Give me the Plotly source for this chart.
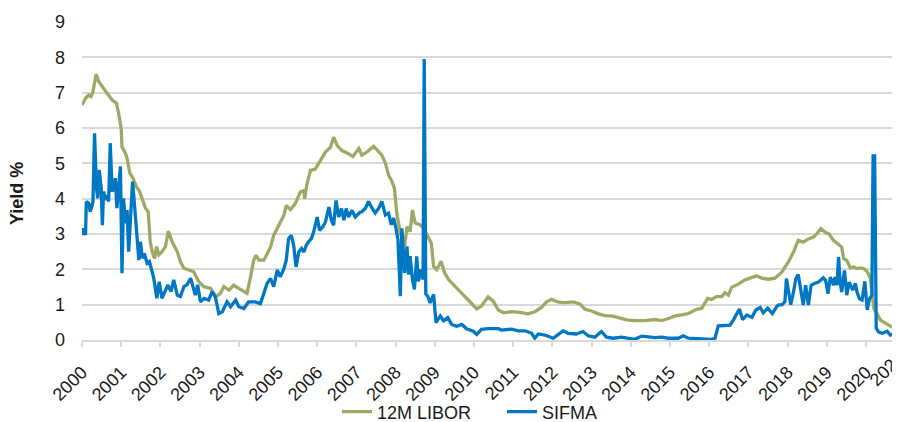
import plotly.graph_objects as go

# ---- data (decimal years, yield %) ----
libor_x = [2000.00, 2000.09, 2000.17, 2000.23, 2000.28, 2000.36, 2000.43, 2000.54, 2000.64, 2000.77,
           2000.88, 2000.94, 2001.00, 2001.02, 2001.11, 2001.15, 2001.22, 2001.30, 2001.39, 2001.47,
           2001.53, 2001.62, 2001.69, 2001.74, 2001.79, 2001.85, 2001.90, 2001.96, 2002.04, 2002.13,
           2002.20, 2002.30, 2002.43, 2002.51, 2002.60, 2002.72, 2002.85, 2002.98, 2003.11, 2003.28,
           2003.41, 2003.53, 2003.62, 2003.75, 2003.87, 2004.00, 2004.13, 2004.21, 2004.30, 2004.38,
           2004.44, 2004.51, 2004.64, 2004.72, 2004.81, 2004.89, 2005.02, 2005.15, 2005.21, 2005.32,
           2005.44, 2005.57, 2005.66, 2005.68, 2005.74, 2005.83, 2005.95, 2006.08, 2006.21, 2006.34,
           2006.42, 2006.51, 2006.63, 2006.80, 2006.91, 2007.02, 2007.06, 2007.14, 2007.27, 2007.44,
           2007.57, 2007.65, 2007.74, 2007.82, 2007.91, 2007.97, 2008.03, 2008.12, 2008.23, 2008.29,
           2008.37, 2008.43, 2008.50, 2008.63, 2008.74, 2008.82, 2008.91, 2008.97, 2009.05, 2009.16,
           2009.25, 2009.35, 2009.43, 2009.52, 2009.64, 2009.77, 2009.94, 2010.07, 2010.19, 2010.36,
           2010.49, 2010.62, 2010.75, 2010.96, 2011.17, 2011.38, 2011.55, 2011.72, 2011.85, 2011.98,
           2012.15, 2012.32, 2012.53, 2012.70, 2012.83, 2013.00, 2013.17, 2013.34, 2013.51, 2013.68,
           2013.89, 2014.10, 2014.36, 2014.62, 2014.79, 2014.96, 2015.13, 2015.30, 2015.47, 2015.64,
           2015.81, 2015.89, 2015.96, 2016.06, 2016.19, 2016.32, 2016.40, 2016.49, 2016.57, 2016.74,
           2016.91, 2017.04, 2017.21, 2017.34, 2017.51, 2017.68, 2017.85, 2018.02, 2018.15, 2018.27,
           2018.40, 2018.53, 2018.66, 2018.74, 2018.85, 2018.96, 2019.06, 2019.17, 2019.30, 2019.38,
           2019.43, 2019.51, 2019.60, 2019.68, 2019.77, 2019.85, 2019.94, 2020.03, 2020.11, 2020.15,
           2020.20, 2020.28, 2020.37, 2020.54, 2020.62, 2020.75, 2020.88]
libor_y = [6.65, 6.84, 6.93, 6.89, 7.03, 7.52, 7.31, 7.12, 6.98, 6.79,
           6.70, 6.37, 5.99, 5.47, 5.28, 5.14, 4.72, 4.58, 4.34, 4.20,
           4.01, 3.73, 3.63, 2.78, 2.50, 2.31, 2.64, 2.41, 2.50, 2.64,
           3.08, 2.78, 2.50, 2.22, 2.03, 1.98, 1.93, 1.65, 1.51, 1.46,
           1.22, 1.32, 1.51, 1.41, 1.55, 1.46, 1.36, 1.32, 1.79, 2.26,
           2.40, 2.26, 2.26, 2.45, 2.63, 2.96, 3.25, 3.53, 3.81, 3.69,
           3.86, 4.19, 4.23, 4.00, 4.42, 4.80, 4.84, 5.08, 5.32, 5.46,
           5.74, 5.50, 5.36, 5.27, 5.19, 5.36, 5.42, 5.23, 5.32, 5.48,
           5.32, 5.23, 5.00, 4.67, 4.48, 4.29, 3.59, 3.02, 2.65, 3.21,
           3.07, 3.68, 3.31, 3.26, 3.12, 2.93, 2.74, 2.08, 1.99, 2.23,
           1.90, 1.71, 1.62, 1.52, 1.38, 1.24, 1.05, 0.88, 0.96, 1.22,
           1.10, 0.85, 0.77, 0.80, 0.78, 0.74, 0.80, 0.92, 1.08, 1.15,
           1.07, 1.06, 1.08, 1.02, 0.87, 0.82, 0.74, 0.69, 0.68, 0.63,
           0.57, 0.55, 0.55, 0.58, 0.55, 0.61, 0.68, 0.71, 0.75, 0.85,
           0.90, 1.04, 1.18, 1.15, 1.23, 1.23, 1.34, 1.27, 1.49, 1.58,
           1.70, 1.75, 1.82, 1.75, 1.72, 1.75, 1.92, 2.21, 2.49, 2.82,
           2.77, 2.86, 2.91, 3.00, 3.15, 3.05, 3.00, 2.82, 2.72, 2.63,
           2.30, 2.25, 2.04, 2.07, 2.02, 2.04, 2.02, 1.94, 1.74, 1.27,
           0.89, 0.75, 0.56, 0.45, 0.39, 0.35, 0.33]

sifma_x = [2000.00, 2000.04, 2000.09, 2000.11, 2000.17, 2000.21, 2000.26, 2000.28, 2000.32, 2000.37,
           2000.40, 2000.44, 2000.49, 2000.52, 2000.55, 2000.60, 2000.64, 2000.68, 2000.72, 2000.77,
           2000.81, 2000.85, 2000.89, 2000.94, 2000.98, 2001.02, 2001.06, 2001.11, 2001.15, 2001.19,
           2001.23, 2001.29, 2001.34, 2001.40, 2001.45, 2001.49, 2001.54, 2001.59, 2001.66, 2001.72,
           2001.77, 2001.83, 2001.91, 2001.97, 2002.04, 2002.10, 2002.19, 2002.27, 2002.34, 2002.43,
           2002.51, 2002.60, 2002.68, 2002.77, 2002.83, 2002.89, 2002.95, 2003.02, 2003.12, 2003.23,
           2003.32, 2003.40, 2003.49, 2003.58, 2003.70, 2003.79, 2003.92, 2004.00, 2004.13, 2004.25,
           2004.42, 2004.55, 2004.64, 2004.72, 2004.81, 2004.89, 2004.98, 2005.06, 2005.15, 2005.21,
           2005.27, 2005.34, 2005.40, 2005.46, 2005.53, 2005.60, 2005.66, 2005.72, 2005.78, 2005.85,
           2005.91, 2006.00, 2006.06, 2006.14, 2006.21, 2006.30, 2006.36, 2006.42, 2006.48, 2006.55,
           2006.62, 2006.68, 2006.74, 2006.80, 2006.89, 2006.97, 2007.10, 2007.14, 2007.23, 2007.31,
           2007.40, 2007.48, 2007.57, 2007.65, 2007.74, 2007.82, 2007.89, 2007.95, 2008.01, 2008.06,
           2008.12, 2008.16, 2008.23, 2008.29, 2008.33, 2008.37, 2008.43, 2008.48, 2008.54, 2008.58,
           2008.65, 2008.70, 2008.73, 2008.77, 2008.82, 2008.88, 2008.97, 2009.03, 2009.14, 2009.22,
           2009.33, 2009.43, 2009.56, 2009.69, 2009.81, 2009.98, 2010.07, 2010.19, 2010.36, 2010.62,
           2010.70, 2010.96, 2011.13, 2011.30, 2011.47, 2011.55, 2011.64, 2011.81, 2012.02, 2012.15,
           2012.27, 2012.40, 2012.61, 2012.78, 2012.91, 2013.08, 2013.25, 2013.38, 2013.55, 2013.76,
           2013.93, 2014.10, 2014.28, 2014.45, 2014.62, 2014.79, 2014.96, 2015.21, 2015.34, 2015.47,
           2015.72, 2016.06, 2016.15, 2016.23, 2016.40, 2016.53, 2016.62, 2016.70, 2016.77, 2016.85,
           2016.96, 2017.09, 2017.19, 2017.30, 2017.38, 2017.49, 2017.61, 2017.72, 2017.76, 2017.86,
           2017.93, 2017.97, 2018.02, 2018.08, 2018.15, 2018.21, 2018.27, 2018.34, 2018.40, 2018.46,
           2018.53, 2018.60, 2018.68, 2018.79, 2018.91, 2018.97, 2019.03, 2019.09, 2019.17, 2019.21,
           2019.26, 2019.30, 2019.34, 2019.38, 2019.45, 2019.51, 2019.57, 2019.66, 2019.73, 2019.77,
           2019.83, 2019.90, 2019.97, 2020.03, 2020.09, 2020.15, 2020.18, 2020.22, 2020.26, 2020.32,
           2020.41, 2020.54, 2020.62, 2020.75, 2020.88]
sifma_y = [2.97, 3.16, 2.97, 3.92, 3.87, 3.63, 3.82, 3.92, 5.85, 4.29,
           4.01, 4.81, 4.29, 3.25, 4.20, 3.96, 4.10, 3.92, 5.57, 4.20,
           4.29, 4.58, 3.73, 4.39, 4.91, 1.89, 4.01, 3.30, 3.68, 2.50,
           3.44, 4.48, 3.82, 3.07, 2.26, 2.78, 2.31, 2.45, 2.17, 2.22,
           2.03, 1.75, 1.18, 1.65, 1.18, 1.32, 1.56, 1.37, 1.70, 1.27,
           1.23, 1.51, 1.56, 1.75, 1.46, 1.27, 1.56, 1.08, 1.18, 1.13,
           1.37, 1.23, 0.75, 0.80, 1.08, 0.94, 1.13, 0.94, 0.89, 1.08,
           1.08, 1.03, 1.32, 1.60, 1.74, 1.51, 1.98, 1.79, 2.02, 2.26,
           2.87, 2.96, 2.68, 2.07, 2.49, 2.59, 2.49, 2.68, 2.78, 2.87,
           3.06, 3.48, 3.10, 3.20, 3.34, 3.76, 3.39, 3.25, 3.95, 3.48,
           3.72, 3.39, 3.72, 3.48, 3.67, 3.48, 3.62, 3.63, 3.73, 3.92,
           3.73, 3.59, 3.73, 3.92, 3.54, 3.59, 3.26, 3.45, 3.16, 2.84,
           1.24, 3.16, 1.90, 2.65, 1.85, 2.37, 1.71, 1.43, 2.37, 1.66,
           1.99, 1.71, 7.95, 1.30, 1.24, 1.05, 1.29, 0.49, 0.68, 0.54,
           0.63, 0.44, 0.39, 0.44, 0.32, 0.25, 0.16, 0.30, 0.32, 0.32,
           0.28, 0.31, 0.26, 0.26, 0.19, 0.05, 0.17, 0.14, 0.05, 0.16,
           0.26, 0.19, 0.17, 0.24, 0.12, 0.08, 0.24, 0.08, 0.05, 0.08,
           0.05, 0.02, 0.11, 0.08, 0.07, 0.08, 0.05, 0.05, 0.12, 0.05,
           0.03, 0.02, 0.05, 0.40, 0.41, 0.42, 0.57, 0.75, 0.88, 0.58,
           0.71, 0.64, 0.85, 0.92, 0.77, 0.90, 0.75, 0.94, 0.99, 1.00,
           1.08, 1.74, 1.36, 1.00, 1.36, 1.74, 1.85, 1.36, 0.99, 1.55,
           0.99, 1.55, 1.60, 1.64, 1.76, 1.69, 1.31, 1.78, 1.55, 1.78,
           1.55, 2.35, 1.64, 1.36, 1.97, 1.27, 1.64, 1.41, 1.60, 1.36,
           1.17, 1.13, 1.66, 0.85, 1.17, 1.27, 5.21, 5.21, 0.33, 0.23,
           0.19, 0.25, 0.14, 0.19, 0.17]

year_ticks = list(range(2000, 2021))
year_labels = [str(y) for y in year_ticks]
cut_label = "2021"   # last year label, partly cut off at the right edge
y_ticks = list(range(0, 10))

GREEN = "#9DAA65"
BLUE = "#0077C4"
FONT = "Liberation Sans, Arial, sans-serif"

# the page body has an 8px default margin: figure is sized to fill the rest of the window
FIG_W, FIG_H = 892, 414

fig = go.Figure()
fig.add_trace(go.Scatter(x=libor_x, y=libor_y, mode="lines", name="12M LIBOR",
                         line=dict(color=GREEN, width=3.3)))
fig.add_trace(go.Scatter(x=sifma_x, y=sifma_y, mode="lines", name="SIFMA",
                         line=dict(color=BLUE, width=3.3)))

fig.update_layout(
    width=FIG_W, height=FIG_H,
    margin=dict(l=74, r=0, t=14, b=82),
    paper_bgcolor="white", plot_bgcolor="white",
    font=dict(family=FONT, size=18, color="#1a1a1a"),
    showlegend=True,
    legend=dict(orientation="h", xref="container", yref="container",
                x=329 / FIG_W, xanchor="left", y=1 - 404 / FIG_H, yanchor="middle",
                font=dict(size=18), bgcolor="rgba(0,0,0,0)", itemwidth=30,
                entrywidth=120, entrywidthmode="pixels"),
    xaxis=dict(range=[2000, 2020.867], tickmode="array", tickvals=year_ticks, ticktext=year_labels,
               tickangle=-45, showgrid=False, zeroline=False, automargin=False,
               showline=True, linecolor="#d9d9d9", linewidth=1.5,
               ticks="outside", ticklen=5, tickcolor="#d9d9d9", tickwidth=1.5,
               ticklabelstandoff=8, tickfont=dict(size=18)),
    yaxis=dict(range=[0, 9], tickmode="array", tickvals=y_ticks, automargin=False,
               showgrid=True, gridcolor="#d9d9d9", gridwidth=1.5,
               zeroline=False, showline=False, ticks="", ticklabelstandoff=16,
               tickfont=dict(size=18)),
    annotations=[
        dict(text="<b>Yield %</b>", xref="paper", yref="paper",
             x=-0.0795, y=0.462, xanchor="center", yanchor="middle",
             textangle=-90, showarrow=False, font=dict(size=18, family=FONT)),
        dict(text=cut_label, xref="paper", yref="paper",
             x=(911 - 82) / 818, y=(340 - 345) / 318, xanchor="right", yanchor="top",
             textangle=-45, showarrow=False, font=dict(size=18, family=FONT)),
    ],
)

fig.write_html("out.html")
